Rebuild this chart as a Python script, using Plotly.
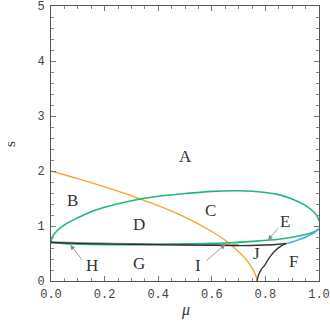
import plotly.graph_objects as go

# curves (mu, s)
orange_mu = [0.0, 0.1, 0.2, 0.3, 0.333, 0.4, 0.5, 0.6, 0.65, 0.7, 0.73, 0.75, 0.76, 0.767, 0.77]
orange_s = [2.0, 1.86, 1.71, 1.55, 1.49, 1.37, 1.16, 0.90, 0.74, 0.53, 0.38, 0.24, 0.14, 0.06, 0.0]

green_up_mu = [0.0, 0.005, 0.02, 0.05, 0.1, 0.15, 0.2, 0.3, 0.4, 0.5, 0.6, 0.7, 0.8, 0.85, 0.9, 0.95, 0.98, 0.995, 1.0]
green_up_s = [0.71, 0.8, 0.9, 1.02, 1.15, 1.26, 1.34, 1.46, 1.54, 1.59, 1.63, 1.64, 1.61, 1.57, 1.49, 1.37, 1.26, 1.16, 1.09]

green_lo_mu = [0.0, 0.05, 0.1, 0.2, 0.3, 0.4, 0.5, 0.6, 0.67, 0.75, 0.85, 0.9, 0.95, 0.98, 1.0]
green_lo_s = [0.71, 0.68, 0.67, 0.66, 0.66, 0.665, 0.675, 0.685, 0.695, 0.72, 0.76, 0.795, 0.845, 0.89, 0.94]

black_mu = [0.0, 0.1, 0.2, 0.3, 0.4, 0.5, 0.6, 0.7, 0.8, 0.85, 0.879]
black_s = [0.70, 0.685, 0.675, 0.668, 0.662, 0.655, 0.65, 0.645, 0.655, 0.668, 0.684]

cusp_mu = [0.769, 0.775, 0.785, 0.798, 0.81, 0.822, 0.838, 0.854, 0.868, 0.879]
cusp_s = [0.0, 0.12, 0.21, 0.29, 0.39, 0.47, 0.56, 0.62, 0.66, 0.684]

blue_mu = [0.879, 0.9, 0.928, 0.955, 0.978, 0.99, 0.997]
blue_s = [0.684, 0.71, 0.757, 0.81, 0.866, 0.91, 0.95]

gray_mu = [0.0, 0.1, 0.2, 0.3, 0.5, 0.6, 0.7]
gray_s = [0.705, 0.69, 0.68, 0.672, 0.662, 0.657, 0.652]

labels = ["A", "B", "C", "D", "G", "J", "F"]
label_mu = [0.5, 0.082, 0.596, 0.33, 0.33, 0.767, 0.903]
label_s = [2.26, 1.47, 1.29, 1.02, 0.32, 0.50, 0.35]

arrow_labels = ["H", "I", "E"]
arrow_text_mu = [0.153, 0.55, 0.872]
arrow_text_s = [0.29, 0.29, 1.08]
arrow_tail_mu = [0.12, 0.575, 0.853]
arrow_tail_s = [0.36, 0.35, 0.99]
arrow_tip_mu = [0.072, 0.65, 0.81]
arrow_tip_s = [0.655, 0.665, 0.745]

fig = go.Figure()
line_sets = [
    (gray_mu, gray_s, "#9a9a9a", 2.2),
    (orange_mu, orange_s, "#f0a830", 1.4),
    (green_up_mu, green_up_s, "#20b878", 1.6),
    (green_lo_mu, green_lo_s, "#20b878", 1.6),
    (black_mu, black_s, "#303030", 1.3),
    (cusp_mu, cusp_s, "#303030", 1.3),
    (blue_mu, blue_s, "#40a8e0", 1.5),
]
for xs, ys, col, w in line_sets:
    fig.add_trace(go.Scatter(x=xs, y=ys, mode="lines", line=dict(color=col, width=w),
                             line_shape="spline", showlegend=False, hoverinfo="skip"))

for t, x, y in zip(labels, label_mu, label_s):
    fig.add_annotation(x=x, y=y, text=t, showarrow=False,
                       font=dict(family="Liberation Serif", size=17, color="#333"))

for t, x, y in zip(arrow_labels, arrow_text_mu, arrow_text_s):
    fig.add_annotation(x=x, y=y, text=t, showarrow=False,
                       font=dict(family="Liberation Serif", size=17, color="#333"))
for x0, y0, x1, y1 in zip(arrow_tail_mu, arrow_tail_s, arrow_tip_mu, arrow_tip_s):
    fig.add_annotation(x=x1, y=y1, ax=x0, ay=y0, axref="x", ayref="y", text="",
                       showarrow=True, arrowhead=2, arrowsize=1.2, arrowwidth=0.8,
                       arrowcolor="#888")

# axis titles placed as paper annotations so margins stay fixed
fig.add_annotation(x=0.5, y=-0.105, xref="paper", yref="paper", text="<i>μ</i>",
                   showarrow=False, xanchor="center", yanchor="middle",
                   font=dict(family="Liberation Serif", size=16, color="#333"))
fig.add_annotation(x=-0.155, y=0.5, xref="paper", yref="paper", text="s",
                   showarrow=False, textangle=-90, xanchor="center", yanchor="middle",
                   font=dict(family="Liberation Serif", size=15, color="#333"))

axis_common = dict(showgrid=False, zeroline=False, showline=True, linecolor="#555",
                   linewidth=1, mirror="allticks", ticks="inside", tickcolor="#777",
                   ticklen=5, tickwidth=1, automargin=False,
                   tickfont=dict(family="Liberation Mono", size=12, color="#444"))

fig.update_xaxes(range=[0, 1], tick0=0, dtick=0.2, tickformat=".1f", ticklabelstandoff=2,
                 minor=dict(dtick=0.05, ticks="inside", ticklen=3, tickcolor="#888"),
                 **axis_common)
fig.update_yaxes(range=[0, 5], tick0=0, dtick=1, ticklabelstandoff=3,
                 minor=dict(dtick=0.2, ticks="inside", ticklen=3, tickcolor="#888"),
                 **axis_common)

fig.update_layout(width=330, height=322, margin=dict(l=51, r=11, t=6, b=41),
                  plot_bgcolor="white", paper_bgcolor="white")

fig.write_html("out.html", config={"displayModeBar": False},
               post_script="document.body.style.margin='0';")
